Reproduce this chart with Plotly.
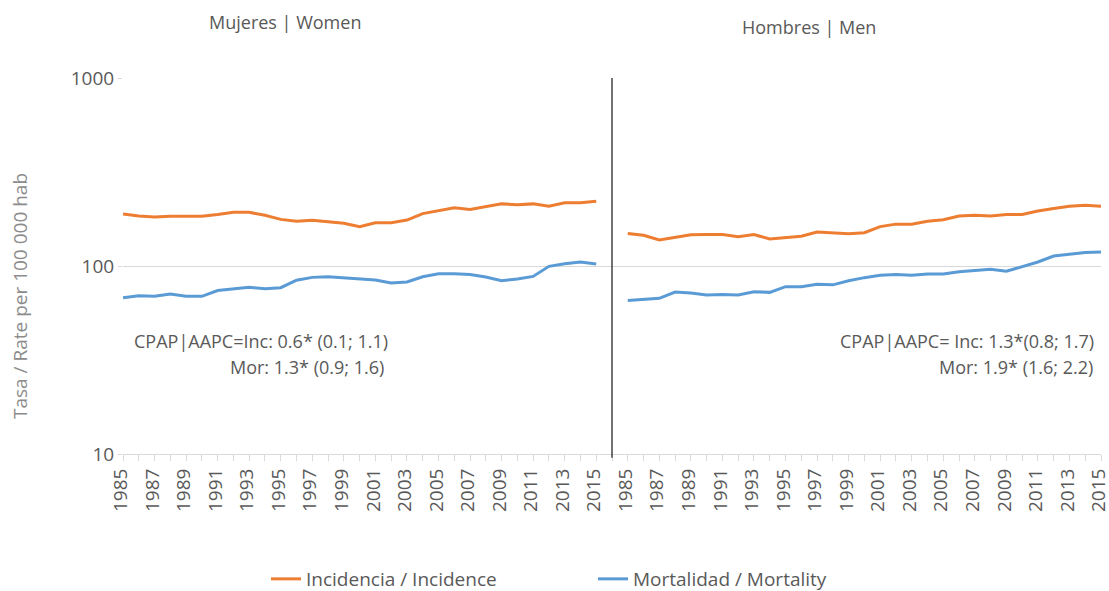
import plotly.graph_objects as go

years = list(range(1985, 2016))

women_incidence = [189, 184.5, 182, 184, 184, 184, 188, 193, 193, 186, 177, 173, 175, 171.6, 169, 162,
                   170, 170, 175.6, 190, 197, 204, 200, 206.7, 214, 212, 214, 207.7, 217, 217, 221]
women_mortality = [67.8, 69.5, 69, 71, 69, 69, 74, 75.7, 77, 75.7, 76.7, 84, 87, 87.7, 86.3, 85.6,
                   84.3, 81.2, 82.2, 87.7, 91, 91, 90, 87.4, 83.5, 85.3, 88, 99.6, 102.8, 105, 102.5]
men_incidence = [149, 145.6, 137.5, 142.7, 146.8, 147, 147, 143.3, 147, 139.3, 141, 143.9, 151.7, 150, 148.6, 150.4,
                 162, 167, 167, 173, 176.3, 184.5, 186, 184.5, 188, 188, 196, 202, 207.7, 210.4, 207.7]
men_mortality = [65.6, 66.5, 67.3, 72.7, 71.8, 70.1, 70.6, 70.1, 73, 72.4, 77.6, 77.6, 80, 79.4, 83.5, 86.7,
                 89.2, 90, 89.2, 90.6, 90.6, 93.3, 94.4, 96, 93.7, 99.1, 105, 113, 115.4, 117.8, 118.7]

panel_titles = ["Mujeres | Women", "Hombres | Men"]
women_note = ["CPAP|AAPC=Inc: 0.6* (0.1; 1.1)", "Mor: 1.3* (0.9; 1.6)"]
men_note = ["CPAP|AAPC= Inc: 1.3*(0.8; 1.7)", "Mor: 1.9* (1.6; 2.2)"]
y_title = "Tasa / Rate per 100 000 hab"
series_names = ["Incidencia / Incidence", "Mortalidad / Mortality"]

ORANGE = "#ED7D31"
BLUE = "#5B9BD5"
TXT = "#595959"
FONT = "Open Sans"

n = len(years)
women_x = list(range(n))
men_x = [n + 1 + i for i in range(n)]
sep_x = n

# body margin removed in the page (post_script); plot area spans x 123..1101, y 78..454
W, H = 1109, 591
PL, PT, PR, PB = 123, 78, 1101, 454
L, T, R, B = PL, PT, W - PR, H - PB
pw, ph = PR - PL, PB - PT


def px(x):
    return (x - PL) / pw


def py(y):
    return (PB - y) / ph


fig = go.Figure()
fig.add_trace(go.Scatter(x=women_x, y=women_incidence, mode="lines", name=series_names[0],
                         line=dict(color=ORANGE, width=3), legendgroup="inc"))
fig.add_trace(go.Scatter(x=women_x, y=women_mortality, mode="lines", name=series_names[1],
                         line=dict(color=BLUE, width=3), legendgroup="mor"))
fig.add_trace(go.Scatter(x=men_x, y=men_incidence, mode="lines", name=series_names[0],
                         line=dict(color=ORANGE, width=3), legendgroup="inc", showlegend=False))
fig.add_trace(go.Scatter(x=men_x, y=men_mortality, mode="lines", name=series_names[1],
                         line=dict(color=BLUE, width=3), legendgroup="mor", showlegend=False))

tickvals = [x for x in women_x[::2]] + [x for x in men_x[::2]]
ticktext = [str(y) for y in years[::2]] * 2

fig.update_xaxes(range=[0, men_x[-1]], tickmode="array", tickvals=tickvals, ticktext=ticktext,
                 tickangle=-90, tickfont=dict(family=FONT, size=19, color=TXT),
                 ticklabeloverflow="allow", ticklabelshift=-2,
                 showgrid=False, zeroline=False, showline=True, linecolor="#d9d9d9", linewidth=1,
                 ticks="outside", ticklen=6, tickcolor="#d9d9d9", automargin=False,
                 minor=dict(tickmode="linear", tick0=0, dtick=1, ticks="outside", ticklen=6,
                            tickcolor="#d9d9d9", showgrid=False))
fig.update_yaxes(type="log", range=[1, 3], tickvals=[10, 100, 1000], ticktext=["10", "100", "1000"],
                 tickfont=dict(family=FONT, size=19, color=TXT),
                 showgrid=True, gridcolor="#d9d9d9", gridwidth=1, zeroline=False, showline=False,
                 ticks="outside", ticklen=4, tickcolor="#d9d9d9", automargin=False)

fig.add_shape(type="line", xref="x", yref="paper", x0=sep_x, x1=sep_x, y0=-0.01, y1=1,
              line=dict(color="#262626", width=1.3))

ann = []
ann.append(dict(x=px(285), y=py(22), text=panel_titles[0]))
ann.append(dict(x=px(809), y=py(27), text=panel_titles[1]))
for a in ann:
    a.update(xref="paper", yref="paper", showarrow=False, xanchor="center", yanchor="middle",
             font=dict(family=FONT, size=18, color=TXT))
notes = [
    (390, 341, women_note[0]), (386, 367, women_note[1]),
    (1096, 341, men_note[0]), (1095, 367, men_note[1]),
]
for x, y, t in notes:
    ann.append(dict(x=px(x), y=py(y), text=t, xref="paper", yref="paper", showarrow=False,
                    xanchor="right", yanchor="middle", font=dict(family=FONT, size=18, color=TXT)))
ann.append(dict(x=px(20), y=py(296), text=y_title, textangle=-90, xref="paper", yref="paper",
                showarrow=False, xanchor="center", yanchor="middle",
                font=dict(family=FONT, size=19, color="#8c8c8c")))

legend_y = 1 - 579 / H
fig.update_layout(
    width=W, height=H, margin=dict(l=L, r=R, t=T, b=B, autoexpand=False),
    paper_bgcolor="white", plot_bgcolor="white",
    annotations=ann,
    showlegend=True,
    legend=dict(orientation="h", x=px(266), xanchor="left", y=legend_y, yref="container",
                yanchor="middle",
                font=dict(family=FONT, size=19, color=TXT), entrywidth=282, entrywidthmode="pixels",
                bgcolor="rgba(0,0,0,0)"),
)

fig.write_html("out.html", config={"displayModeBar": False},
               post_script="document.body.style.margin='0';document.body.style.overflow='hidden';")
